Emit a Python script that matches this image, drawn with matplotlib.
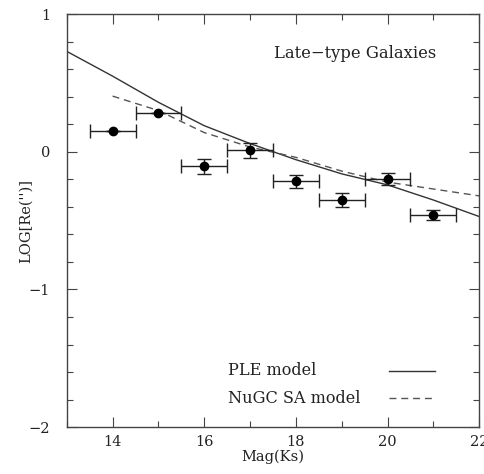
import matplotlib
matplotlib.use("Agg")
import matplotlib.pyplot as plt
from matplotlib.ticker import MultipleLocator

mag = [14, 15, 16, 17, 18, 19, 20, 21]
logre = [0.15, 0.28, -0.105, 0.01, -0.215, -0.35, -0.20, -0.46]
yerr = [0.0, 0.0, 0.056, 0.057, 0.046, 0.05, 0.044, 0.034]
xerr = [0.5] * 8

ple_x = [13, 14, 15, 16, 17, 18, 19, 20, 21, 22]
ple_y = [0.73, 0.55, 0.36, 0.19, 0.06, -0.057, -0.16, -0.24, -0.35, -0.47]

sa_x = [14, 15, 16, 17, 18, 19, 20, 21, 22]
sa_y = [0.405, 0.30, 0.14, 0.035, -0.04, -0.14, -0.22, -0.27, -0.32]

plt.rcParams['font.family'] = ['DejaVu Serif']

txtc = '#222222'
fig = plt.figure(figsize=(4.84, 4.74), dpi=100)
ax = fig.add_axes([0.138, 0.099, 0.852, 0.871])

ax.plot(ple_x, ple_y, color='#333333', lw=1.0)
ax.plot(sa_x, sa_y, color='#555555', lw=1.0, ls=(0, (5, 3.5)))
ax.errorbar(mag, logre, xerr=xerr, yerr=yerr, fmt='o', color='black',
            ms=6, elinewidth=1.0, capsize=5, capthick=1.0, ecolor='#222222')

ax.set_xlim(13, 22)
ax.set_ylim(-2, 1)
ax.xaxis.set_major_locator(MultipleLocator(2))
ax.xaxis.set_minor_locator(MultipleLocator(1))
ax.yaxis.set_major_locator(MultipleLocator(1))
ax.yaxis.set_minor_locator(MultipleLocator(0.2))
ax.tick_params(which='both', direction='in', top=True, right=True,
               color='#444444', labelsize=10.5, labelcolor=txtc)
ax.tick_params(axis='y', pad=12)
ax.tick_params(axis='x', pad=6)
ax.tick_params(which='major', length=7, width=0.8)
ax.tick_params(which='minor', length=4, width=0.8)
for s in ax.spines.values():
    s.set_color('#444444')
    s.set_linewidth(1.0)

ax.set_xlabel('Mag(Ks)', fontsize=10.5, labelpad=0, color=txtc)
ax.set_ylabel("LOG[Re('')]", fontsize=10.5, color=txtc)
ax.yaxis.set_label_coords(-0.083, 0.5)

ax.text(0.502, 0.905, 'Late\u2212type Galaxies', transform=ax.transAxes,
        fontsize=11.8, ha='left', va='center', color=txtc)

ax.text(0.392, 0.137, 'PLE model', transform=ax.transAxes, fontsize=11.6,
        ha='left', va='center', color=txtc)
ax.text(0.392, 0.07, 'NuGC SA model', transform=ax.transAxes, fontsize=11.6,
        ha='left', va='center', color=txtc)
ax.plot([0.782, 0.894], [0.137, 0.137], transform=ax.transAxes,
        color='#333333', lw=1.0)
ax.plot([0.782, 0.894], [0.07, 0.07], transform=ax.transAxes,
        color='#555555', lw=1.0, ls=(0, (5, 3.5)))

fig.savefig('out.png', dpi=100)
